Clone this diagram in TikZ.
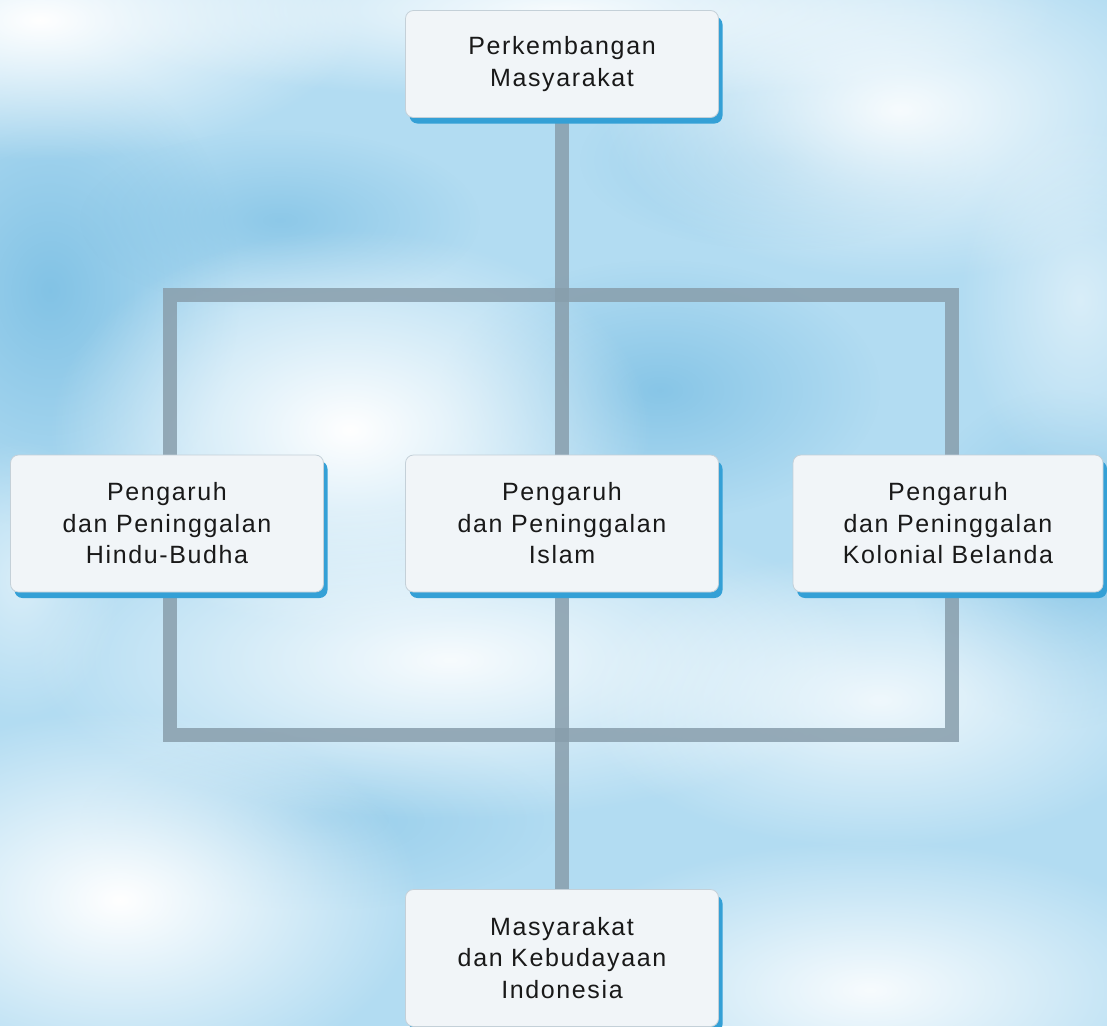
\documentclass[tikz,border=0pt]{standalone}
\usepackage{fontspec}
\newfontfamily\boxfont[LetterSpace=6.5]{Liberation Sans}
\usetikzlibrary{shadows,fadings,backgrounds}
\tikzfading[name=softcloud, inner color=transparent!0, outer color=transparent!100]
\definecolor{skyblue}{RGB}{178,220,242}
\definecolor{skydeep}{RGB}{125,192,228}
\definecolor{barcol}{RGB}{136,158,172}
\definecolor{boxfill}{RGB}{241,245,248}
\definecolor{boxline}{RGB}{196,208,216}
\definecolor{shadowblue}{RGB}{52,160,214}
\definecolor{textcol}{RGB}{25,25,25}
\pgfdeclarelayer{sky}
\pgfsetlayers{sky,background,main}
\tikzset{
  infobox/.style={rectangle, rounded corners=8pt, fill=boxfill, draw=boxline, line width=0.8pt,
    minimum width=313pt, minimum height=137pt, align=center, text=textcol,
    font=\boxfont\fontsize{25}{31.5}\selectfont,
    general shadow={fill=shadowblue, shadow xshift=4pt, shadow yshift=-6pt}},
  topbox/.style={infobox, minimum height=107pt},
  bar/.style={draw=barcol, line width=14pt, opacity=0.85, line join=miter},
  cloud/.style={fill=white, path fading=softcloud},
  deepsky/.style={fill=skydeep, path fading=softcloud},
}
\begin{document}
\begin{tikzpicture}[x=1pt,y=-1pt]
\useasboundingbox (0,0) rectangle (1107,1026);
% nodes
\node[topbox] (top) at (562,64) {Perkembangan\\Masyarakat};
\node[infobox] (hindu) at (167,523.5) {Pengaruh\\dan Peninggalan\\Hindu-Budha};
\node[infobox] (islam) at (562,523.5) {Pengaruh\\dan Peninggalan\\Islam};
\node[infobox, minimum width=310pt] (kolonial) at (948,523.5) {Pengaruh\\dan Peninggalan\\Kolonial Belanda};
\node[infobox] (indo) at (562,958) {Masyarakat\\dan Kebudayaan\\Indonesia};
\coordinate (tl) at (170,295);
\coordinate (tr) at (951.5,295);
\coordinate (bl) at (170,735);
\coordinate (br) at (951.5,735);
% connectors
\begin{pgfonlayer}{background}
\draw[bar] (tl) -- (tr) -- (br) -- (bl) -- cycle;
\draw[bar] (top.south) -- (islam.center) -- (indo.north);
\end{pgfonlayer}
% sky
\begin{pgfonlayer}{sky}
\fill[skyblue] (0,0) rectangle (1107,1026);
\fill[deepsky, opacity=0.9] (50,290) ellipse [x radius=190pt, y radius=240pt];
\fill[deepsky, opacity=0.7] (280,220) ellipse [x radius=200pt, y radius=90pt];
\fill[deepsky, opacity=0.8] (660,390) ellipse [x radius=220pt, y radius=130pt];
\fill[deepsky, opacity=0.7] (1060,560) ellipse [x radius=150pt, y radius=170pt];
\fill[deepsky, opacity=0.5] (780,160) ellipse [x radius=200pt, y radius=90pt];
\fill[deepsky, opacity=0.5] (320,820) ellipse [x radius=240pt, y radius=90pt];
\fill[cloud, opacity=1] (40,20) ellipse [x radius=320pt, y radius=140pt];
\fill[cloud, opacity=0.9] (560,10) ellipse [x radius=500pt, y radius=90pt];
\fill[cloud, opacity=0.9] (900,110) ellipse [x radius=300pt, y radius=170pt];
\fill[cloud, opacity=1] (350,430) ellipse [x radius=300pt, y radius=200pt];
\fill[cloud, opacity=0.9] (450,660) ellipse [x radius=420pt, y radius=160pt];
\fill[cloud, opacity=0.8] (880,700) ellipse [x radius=300pt, y radius=150pt];
\fill[cloud, opacity=1] (120,900) ellipse [x radius=300pt, y radius=190pt];
\fill[cloud, opacity=0.9] (870,990) ellipse [x radius=340pt, y radius=150pt];
\fill[cloud, opacity=0.5] (1080,300) ellipse [x radius=120pt, y radius=180pt];
\fill[cloud, opacity=0.5] (20,580) ellipse [x radius=100pt, y radius=140pt];
\end{pgfonlayer}
\end{tikzpicture}
\end{document}
